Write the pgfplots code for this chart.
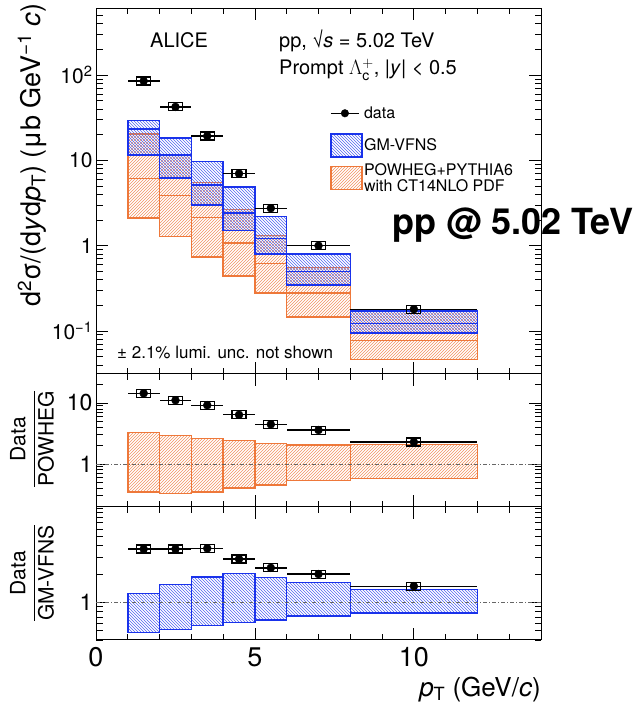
\documentclass[border=0pt]{standalone}
\usepackage{pgfplots}
\pgfplotsset{compat=1.18}
\usepackage{pgfplotstable}
\usepackage{amsmath}
\usepackage{fontspec}
\setmainfont{TeX Gyre Heros}
\usetikzlibrary{patterns}

\definecolor{gmblue}{RGB}{25,50,235}
\definecolor{pworange}{RGB}{238,120,58}

% open rectangle used for the systematic uncertainty of each data point
\pgfdeclareplotmark{sysbox}{%
  \pgfpathrectangle{\pgfpoint{-7pt}{-4pt}}{\pgfpoint{14pt}{8pt}}%
  \pgfusepathqstroke}

% measured cross section
\pgfplotstableread{
x    y     xerr
1.5  85.3  0.5
2.5  42.4  0.5
3.5  19.3  0.5
4.5  7.0   0.5
5.5  2.75  0.5
7    1.0   1
10   0.18  2
}\spectrum

% GM-VFNS prediction: lower edge, central value, upper edge
\pgfplotstableread{
xlo xhi lo     mid    hi
1   2   11.5   23.3   29.5
2   3   6.2    11.5   18.3
3   4   2.98   5.18   9.66
4   5   1.5    2.43   4.9
5   6   0.80   1.22   2.19
6   8   0.348  0.50   0.80
8   12  0.0946 0.122  0.172
}\gmvfns

% POWHEG+PYTHIA6 prediction
\pgfplotstableread{
xlo xhi lo     mid    hi
1   2   2.12   6.1    20.4
2   3   1.28   3.9    11.6
3   4   0.735  2.13   5.47
4   5   0.444  1.08   2.65
5   6   0.28   0.62   1.31
6   8   0.146  0.278  0.556
8   12  0.0465 0.0778 0.17
}\powheg

% data / POWHEG
\pgfplotstableread{
x    y     xerr
1.5  14.4  0.5
2.5  11.1  0.5
3.5  9.2   0.5
4.5  6.4   0.5
5.5  4.47  0.5
7    3.6   1
10   2.29  2
}\ratiopw

\pgfplotstableread{
xlo xhi lo     hi
1   2   0.348  3.31
2   3   0.33   2.95
3   4   0.348  2.6
4   5   0.404  2.41
5   6   0.453  2.15
6   8   0.533  2.05
8   12  0.58   2.1
}\bandpw

% data / GM-VFNS
\pgfplotstableread{
x    y     xerr
1.5  3.69  0.5
2.5  3.69  0.5
3.5  3.75  0.5
4.5  2.89  0.5
5.5  2.33  0.5
7    2.0   1
10   1.49  2
}\ratiogm

\pgfplotstableread{
xlo xhi lo     hi
1   2   0.48   1.25
2   3   0.516  1.55
3   4   0.569  1.87
4   5   0.617  2.03
5   6   0.653  1.85
6   8   0.715  1.62
8   12  0.776  1.38
}\bandgm

% one rectangle per pT bin, from the columns xlo, xhi, lo, hi of a table
\newcommand{\drawboxes}[2]{%
  \pgfplotstablegetrowsof{#1}%
  \pgfmathtruncatemacro{\lastrow}{\pgfplotsretval-1}%
  \pgfplotsforeachungrouped \rowi in {0,...,\lastrow}{%
    \pgfplotstablegetelem{\rowi}{xlo}\of#1\let\bxlo\pgfplotsretval
    \pgfplotstablegetelem{\rowi}{xhi}\of#1\let\bxhi\pgfplotsretval
    \pgfplotstablegetelem{\rowi}{lo}\of#1\let\bylo\pgfplotsretval
    \pgfplotstablegetelem{\rowi}{hi}\of#1\let\byhi\pgfplotsretval
    \edef\next{\noexpand\addplot[#2] coordinates
      {(\bxlo,\bylo) (\bxhi,\bylo) (\bxhi,\byhi) (\bxlo,\byhi)} -- cycle;}%
    \next
  }}
% central value of each bin as a horizontal segment
\newcommand{\drawmids}[2]{%
  \pgfplotstablegetrowsof{#1}%
  \pgfmathtruncatemacro{\lastrow}{\pgfplotsretval-1}%
  \pgfplotsforeachungrouped \rowi in {0,...,\lastrow}{%
    \pgfplotstablegetelem{\rowi}{xlo}\of#1\let\bxlo\pgfplotsretval
    \pgfplotstablegetelem{\rowi}{xhi}\of#1\let\bxhi\pgfplotsretval
    \pgfplotstablegetelem{\rowi}{mid}\of#1\let\bymid\pgfplotsretval
    \edef\next{\noexpand\addplot[#2] coordinates {(\bxlo,\bymid) (\bxhi,\bymid)};}%
    \next
  }}

\newcommand{\fs}[1]{\fontsize{#1}{#1}\selectfont}

\pgfplotsset{
  chartpanel/.style={
    scale only axis, width=445pt, xmin=0, xmax=14,
    axis line style={black, line width=1pt},
    tick align=inside, xtick pos=both, ytick pos=both,
    xtick={0,5,10}, minor xtick={1,2,3,4,6,7,8,9,11,12,13},
    major tick length=12pt, minor tick length=6.5pt,
    every tick/.style={black, line width=0.8pt},
  },
  gmbox/.style={forget plot, draw=gmblue, line width=1.5pt,
    pattern=north west lines, pattern color=gmblue!75},
  pwbox/.style={forget plot, draw=pworange, line width=1.5pt,
    pattern=north east lines, pattern color=pworange!80},
  gmline/.style={forget plot, gmblue, line width=1.5pt},
  pwline/.style={forget plot, pworange, line width=1.5pt},
  unity/.style={forget plot, black!60, line width=0.8pt,
    dash pattern=on 4pt off 2pt on 1pt off 2pt},
  sysmarks/.style={forget plot, only marks, mark=sysbox,
    mark options={black, line width=1.1pt}},
  datapts/.style={forget plot, only marks, mark=*, mark size=4pt, black,
    error bars/.cd, x dir=both, x explicit, error mark=none,
    error bar style={line width=1.3pt, black}},
}

\begin{document}
\begin{tikzpicture}
\useasboundingbox (0,0) rectangle (643pt,704pt);

% ---- cross section ----
\begin{axis}[chartpanel, ymode=log, at={(96pt,330pt)}, anchor=south west, height=366pt,
  ymin=0.0313, ymax=612,
  ytick={0.1,1,10,100},
  yticklabels={10\textsuperscript{−1},1,10,10\textsuperscript{2}},
  minor ytick={0.04,0.05,0.06,0.07,0.08,0.09,0.2,0.3,0.4,0.5,0.6,0.7,0.8,0.9,
    2,3,4,5,6,7,8,9,20,30,40,50,60,70,80,90,200,300,400,500,600},
  yticklabel style={font=\fs{21}},
  xticklabels={},
  legend style={at={(0.526,0.735)}, anchor=north west, draw=none, fill=none,
    inner sep=0pt, row sep=4pt, font=\fs{16},
    nodes={inner sep=1.5pt, align=left}},
  legend cell align=left,
]
\drawboxes{\powheg}{pwbox}
\drawmids{\powheg}{pwline}
\drawboxes{\gmvfns}{gmbox}
\drawmids{\gmvfns}{gmline}
\addplot[sysmarks] table[x=x, y=y] {\spectrum};
\addplot[datapts] table[x=x, y=y, x error=xerr] {\spectrum};

\addlegendimage{legend image code/.code={
  \draw[black, line width=1.3pt] (0pt,0pt) -- (28pt,0pt);
  \fill[black] (14pt,0pt) circle (3.8pt);
  \path (14pt,-16pt);}}
\addlegendentry{data}
\addlegendimage{legend image code/.code={
  \draw[draw=gmblue, line width=1.3pt, pattern=north west lines, pattern color=gmblue!75]
    (0pt,-11.5pt) rectangle (31pt,11.5pt);}}
\addlegendentry{GM-VFNS}
\addlegendimage{legend image code/.code={
  \draw[draw=pworange, line width=1.3pt, pattern=north east lines, pattern color=pworange!80]
    (0pt,-11.5pt) rectangle (31pt,11.5pt);}}
\addlegendentry{POWHEG+PYTHIA6\\with CT14NLO PDF}
\end{axis}

% ---- data / POWHEG ----
\begin{axis}[chartpanel, ymode=log, at={(96pt,197pt)}, anchor=south west, height=133pt,
  ymin=0.197, ymax=29.9,
  ytick={1,10}, yticklabels={1,10},
  minor ytick={0.2,0.3,0.4,0.5,0.6,0.7,0.8,0.9,2,3,4,5,6,7,8,9,20},
  yticklabel style={font=\fs{23}},
  xticklabels={},
]
\drawboxes{\bandpw}{pwbox}
\addplot[unity] coordinates {(0,1) (14,1)};
\addplot[sysmarks] table[x=x, y=y] {\ratiopw};
\addplot[datapts] table[x=x, y=y, x error=xerr] {\ratiopw};
\end{axis}

% ---- data / GM-VFNS ----
\begin{axis}[chartpanel, ymode=log, at={(96pt,64pt)}, anchor=south west, height=133pt,
  ymin=0.4, ymax=10.3,
  ytick={1}, yticklabels={1},
  minor ytick={0.4,0.5,0.6,0.7,0.8,0.9,2,3,4,5,6,7,8,9,10},
  yticklabel style={font=\fs{23}},
  xticklabels={0,5,10},
  xticklabel style={font=\fs{27}, yshift=-4pt},
]
\drawboxes{\bandgm}{gmbox}
\addplot[unity] coordinates {(0,1) (14,1)};
\addplot[sysmarks] table[x=x, y=y] {\ratiogm};
\addplot[datapts] table[x=x, y=y, x error=xerr] {\ratiogm};
\end{axis}

% ---- labels ----
\node[rotate=90, font=\fs{27}] at (32pt,549pt)
  {d\textsuperscript{2}σ/(d\textit{y}d\textit{p}\textsubscript{T}) (μb GeV\textsuperscript{−1} \textit{c})};
\node[rotate=90, font=\fs{21}, inner sep=0pt] at (32pt,265pt)
  {$\dfrac{\text{Data}}{\text{POWHEG}}$};
\node[rotate=90, font=\fs{21}, inner sep=0pt] at (32pt,131pt)
  {$\dfrac{\text{Data}}{\text{GM-VFNS}}$};
\node[anchor=base east, font=\fs{26}, inner sep=0pt] at (541pt,8pt)
  {\textit{p}\textsubscript{T} (GeV/\textit{c})};

\node[anchor=base west, font=\fs{20}, inner sep=0pt] at (150pt,656pt) {ALICE};
\node[anchor=base west, font=\fs{20}, inner sep=0pt] at (279pt,656pt)
  {pp, √\textit{s} = 5.02 TeV};
\node[anchor=base west, font=\fs{20}, inner sep=0pt] at (279pt,629pt)
  {Prompt $\Lambda_{\mathrm{c}}^{+}$, |\textit{y}| < 0.5};
\node[anchor=base west, font=\fs{17}, inner sep=0pt] at (117pt,345pt)
  {± 2.1\% lumi. unc. not shown};
\node[anchor=base west, font=\bfseries\fs{36}, inner sep=0pt] at (392pt,469pt)
  {pp @ 5.02 TeV};
\end{tikzpicture}
\end{document}
